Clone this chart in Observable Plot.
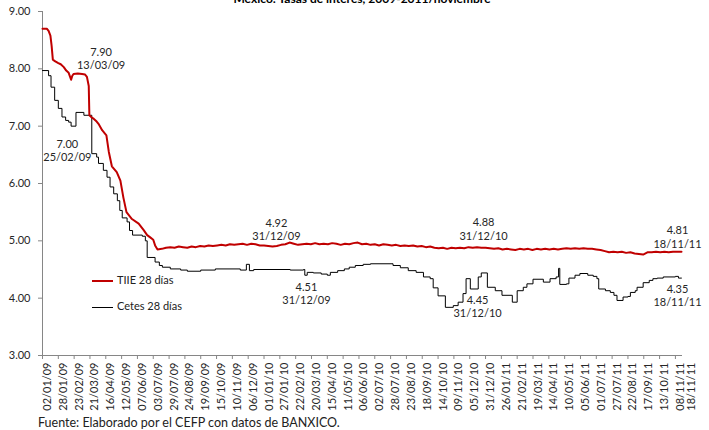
<!DOCTYPE html>
<html>
<head>
<meta charset="utf-8">
<script src="https://cdn.jsdelivr.net/npm/d3@7"></script>
<script src="https://cdn.jsdelivr.net/npm/@observablehq/plot@0.6"></script>
<style>
html, body { margin: 0; padding: 0; background: #fff; overflow: hidden; }
#wrap { position: relative; width: 709px; height: 430px; overflow: hidden; font-family: Lato, "Liberation Sans", sans-serif; }
#title { position: absolute; top: -7px; left: 0; width: 709px; padding-left: 15px; box-sizing: border-box; text-align: center; font-weight: bold; font-size: 12px; line-height: 12px; color: #000; }
#chart { position: absolute; top: 0; left: 0; }
#footer { position: absolute; top: 416px; left: 38px; font-size: 12.5px; line-height: 13px; color: #222; white-space: nowrap; }
.leg { position: absolute; font-size: 11px; line-height: 12px; color: #222; white-space: nowrap; }
.leg span.sw { display: inline-block; width: 21px; vertical-align: middle; margin-right: 4px; }
</style>
</head>
<body>
<div id="wrap">
  <div id="chart"></div>
  <div id="title"></div>
  <div class="leg" id="leg1" style="left:92px; top:274px;"></div>
  <div class="leg" id="leg2" style="left:92px; top:300px;"></div>
  <div id="footer"></div>
</div>
<script>
// ---------- DATA ----------
const titleText = "México: Tasas de interés, 2009-2011/noviembre";
const footerText = "Fuente: Elaborado por el CEFP con datos de BANXICO.";
const seriesNames = ["TIIE 28 días", "Cetes 28 días"];

const tiieDates = [
  "2009-01-02","2009-01-09","2009-01-12","2009-01-15","2009-01-17","2009-01-19","2009-01-23","2009-01-28",
  "2009-02-01","2009-02-06","2009-02-10","2009-02-14","2009-02-18","2009-02-20","2009-02-22","2009-03-01",
  "2009-03-08","2009-03-13","2009-03-16","2009-03-19","2009-03-20","2009-03-24","2009-03-27","2009-04-01",
  "2009-04-04","2009-04-10","2009-04-17","2009-04-21","2009-04-26","2009-05-04","2009-05-10","2009-05-15",
  "2009-05-20","2009-05-29","2009-06-09","2009-06-17","2009-06-23","2009-06-28","2009-07-03","2009-07-06",
  "2009-07-10","2009-07-17","2009-07-24","2009-07-31","2009-08-07","2009-08-14","2009-08-21","2009-08-28",
  "2009-09-04","2009-09-11","2009-09-18","2009-09-25","2009-10-02","2009-10-09","2009-10-16","2009-10-23",
  "2009-10-30","2009-11-06","2009-11-13","2009-11-20","2009-11-27","2009-12-04","2009-12-11","2009-12-18",
  "2009-12-25","2010-01-01","2010-01-08","2010-01-15","2010-01-22","2010-01-29","2010-02-05","2010-02-12",
  "2010-02-19","2010-02-26","2010-03-05","2010-03-12","2010-03-19","2010-03-26","2010-04-02","2010-04-09",
  "2010-04-16","2010-04-23","2010-04-30","2010-05-07","2010-05-14","2010-05-21","2010-05-28","2010-06-04",
  "2010-06-11","2010-06-18","2010-06-25","2010-07-02","2010-07-09","2010-07-16","2010-07-23","2010-07-30",
  "2010-08-06","2010-08-13","2010-08-20","2010-08-27","2010-09-03","2010-09-10","2010-09-17","2010-09-24",
  "2010-10-01","2010-10-08","2010-10-15","2010-10-22","2010-10-29","2010-11-05","2010-11-12","2010-11-19",
  "2010-11-26","2010-12-03","2010-12-10","2010-12-17","2010-12-24","2010-12-31","2011-01-07","2011-01-14",
  "2011-01-21","2011-01-28","2011-02-04","2011-02-11","2011-02-18","2011-02-25","2011-03-04","2011-03-11",
  "2011-03-18","2011-03-25","2011-04-01","2011-04-08","2011-04-15","2011-04-22","2011-04-29","2011-05-06",
  "2011-05-13","2011-05-20","2011-05-27","2011-06-03","2011-06-10","2011-06-17","2011-06-24","2011-07-01",
  "2011-07-08","2011-07-15","2011-07-22","2011-07-29","2011-08-05","2011-08-12","2011-08-19","2011-08-26",
  "2011-09-02","2011-09-09","2011-09-16","2011-09-23","2011-09-30","2011-10-07","2011-10-14","2011-10-21",
  "2011-10-28","2011-11-04","2011-11-11","2011-11-18"
];
const tiieValues = [
  8.70,8.70,8.66,8.58,8.40,8.16,8.13,8.10,
  8.08,8.03,7.97,7.93,7.81,7.88,7.91,7.92,
  7.91,7.90,7.86,7.70,7.19,7.15,7.13,7.08,
  7.04,6.93,6.84,6.55,6.30,6.20,6.05,5.75,
  5.50,5.38,5.30,5.19,5.10,5.06,5.02,4.92,
  4.85,4.86,4.88,4.89,4.88,4.90,4.89,4.88,
  4.90,4.89,4.91,4.90,4.92,4.91,4.92,4.93,
  4.92,4.94,4.93,4.94,4.95,4.93,4.95,4.94,
  4.92,4.92,4.91,4.90,4.91,4.93,4.94,4.97,
  4.95,4.93,4.94,4.95,4.94,4.96,4.94,4.95,
  4.94,4.96,4.95,4.93,4.95,4.94,4.96,4.97,
  4.94,4.95,4.93,4.94,4.92,4.94,4.93,4.92,
  4.93,4.91,4.92,4.91,4.92,4.90,4.91,4.89,
  4.90,4.88,4.87,4.88,4.86,4.88,4.87,4.88,
  4.87,4.89,4.88,4.89,4.88,4.88,4.87,4.86,
  4.87,4.85,4.86,4.85,4.84,4.86,4.85,4.86,
  4.84,4.86,4.85,4.86,4.85,4.86,4.85,4.86,
  4.87,4.86,4.87,4.86,4.87,4.86,4.86,4.85,
  4.84,4.82,4.80,4.81,4.80,4.81,4.79,4.80,
  4.78,4.77,4.76,4.80,4.80,4.81,4.80,4.81,
  4.80,4.81,4.81,4.81
];

const cetesDates = [
  "2009-01-02","2009-01-12","2009-01-16","2009-01-22","2009-01-28","2009-02-03","2009-02-09","2009-02-14",
  "2009-02-18","2009-02-26","2009-03-11","2009-03-24","2009-04-01","2009-04-04","2009-04-12","2009-04-18",
  "2009-04-23","2009-04-29","2009-05-05","2009-05-09","2009-05-13","2009-05-21","2009-05-25","2009-05-30",
  "2009-06-15","2009-06-20","2009-06-23","2009-07-06","2009-07-13","2009-07-18","2009-07-31","2009-08-17",
  "2009-08-28","2009-09-19","2009-10-13","2009-11-23","2009-12-03","2009-12-08","2009-12-15","2010-02-13",
  "2010-03-07","2010-03-09","2010-03-13","2010-03-23","2010-04-05","2010-04-15","2010-04-20","2010-05-02",
  "2010-05-13","2010-05-21","2010-05-31","2010-06-13","2010-06-25","2010-08-01","2010-08-13","2010-08-26",
  "2010-09-08","2010-09-20","2010-10-01","2010-10-06","2010-10-14","2010-10-26","2010-11-08","2010-11-16",
  "2010-11-24","2010-11-29","2010-12-06","2010-12-19","2010-12-24","2011-01-03","2011-01-16","2011-01-27",
  "2011-02-13","2011-02-21","2011-03-03","2011-03-09","2011-03-19","2011-04-05","2011-04-16","2011-04-26",
  "2011-04-30","2011-05-02","2011-05-13","2011-05-17","2011-05-27","2011-06-04","2011-06-17","2011-06-26",
  "2011-07-02","2011-07-05","2011-07-16","2011-07-24","2011-07-30","2011-08-04","2011-08-14","2011-08-22",
  "2011-08-26","2011-09-03","2011-09-06","2011-09-16","2011-09-26","2011-10-02","2011-10-09","2011-10-19",
  "2011-11-08","2011-11-13","2011-11-18"
];
const cetesValues = [
  7.97,7.88,7.68,7.45,7.31,7.16,7.10,7.07,
  7.00,7.24,7.19,6.52,6.46,6.35,6.23,6.11,
  5.94,5.82,5.70,5.53,5.40,5.33,5.18,5.10,
  5.08,5.00,4.71,4.63,4.57,4.54,4.51,4.49,
  4.47,4.49,4.51,4.49,4.59,4.48,4.50,4.49,
  4.50,4.40,4.45,4.44,4.42,4.40,4.45,4.48,
  4.51,4.54,4.57,4.59,4.60,4.57,4.53,4.48,
  4.45,4.37,4.34,4.18,4.04,3.84,3.87,3.93,
  4.08,4.34,4.16,4.37,4.44,4.19,4.13,4.05,
  3.93,4.13,4.19,4.25,4.33,4.28,4.34,4.37,
  4.52,4.24,4.25,4.35,4.40,4.43,4.40,4.38,
  4.34,4.16,4.13,4.10,4.05,3.96,4.02,4.03,
  4.10,4.13,4.19,4.27,4.31,4.34,4.35,4.37,
  4.38,4.35,4.35
];

// Annotated points
const annDates  = ["2009-03-13","2009-02-25","2009-12-31","2009-12-31","2010-12-31","2010-12-31","2011-11-18","2011-11-18"];
const annValues = [7.90, 7.00, 4.92, 4.51, 4.88, 4.45, 4.81, 4.35];

// Axis ticks
const xTickLabels = [
  "2009-01-02","2009-01-28","2009-02-23","2009-03-21","2009-04-16","2009-05-12","2009-06-07","2009-07-03",
  "2009-07-29","2009-08-24","2009-09-19","2009-10-15","2009-11-10","2009-12-06","2010-01-01","2010-01-27",
  "2010-02-22","2010-03-20","2010-04-15","2010-05-11","2010-06-06","2010-07-02","2010-07-28","2010-08-23",
  "2010-09-18","2010-10-14","2010-11-09","2010-12-05","2010-12-31","2011-01-26","2011-02-21","2011-03-19",
  "2011-04-14","2011-05-10","2011-06-05","2011-07-01","2011-07-27","2011-08-22","2011-09-17","2011-10-13",
  "2011-11-08"
];
const xLastLabel = "2011-11-18";
const yTicks = [3, 4, 5, 6, 7, 8, 9];

// ---------- BUILD ----------
const P = s => new Date(s + "T00:00:00Z");
const tiie = tiieDates.map((d, i) => ({date: P(d), value: tiieValues[i]}));
const cetes = cetesDates.map((d, i) => ({date: P(d), value: cetesValues[i]}));
const ann = annDates.map((d, i) => ({date: P(d), value: annValues[i]}));
const xTicks = xTickLabels.map(P);
const fmtDate = d3.utcFormat("%d/%m/%y");

const RED = "#c00000";
const AX = "#868686";
const TXT = "#262626";

const offsets = [[16,-16],[-8,24],[13,-16],[43,24],[-2,-19],[-8,34],[-4,-15],[-4,17]];
const annMarks = ann.map((a, i) => Plot.text([a], {
  x: "date", y: "value",
  text: d => d.value.toFixed(2) + "\n" + fmtDate(d.date),
  dx: offsets[i][0], dy: offsets[i][1],
  lineAnchor: "middle", textAnchor: "middle", lineHeight: 1.2,
  fill: TXT, fontSize: 11
}));

const chart = Plot.plot({
  width: 709,
  height: 415,
  marginTop: 11,
  marginBottom: 60,
  marginLeft: 42,
  marginRight: 28,
  style: {fontFamily: "Lato, 'Liberation Sans', sans-serif", fontSize: "11px", color: TXT, background: "transparent"},
  x: {type: "utc", domain: [P("2009-01-02"), P("2011-11-18")], label: null},
  y: {domain: [3, 9], label: null},
  marks: [
    Plot.frame({anchor: "left", stroke: AX}),
    Plot.frame({anchor: "bottom", stroke: AX}),
    Plot.axisY({ticks: yTicks, tickFormat: d => d.toFixed(2), tickSize: 4, tickPadding: 8, stroke: AX, fill: TXT, fontSize: 11, label: null}),
    Plot.axisX({ticks: xTicks, tickSize: 4, tickFormat: () => "", stroke: AX, label: null}),
    Plot.axisX({ticks: xTicks, tickSize: 0, tickPadding: 7, tickRotate: -90, dx: 5, tickFormat: fmtDate, fill: TXT, fontSize: 11, label: null}),
    Plot.axisX({ticks: [P(xLastLabel)], tickSize: 0, tickPadding: 7, tickRotate: -90, dx: 10, tickFormat: fmtDate, fill: TXT, fontSize: 11, label: null}),
    Plot.line(cetes, {x: "date", y: "value", curve: "step-after", stroke: "#000", strokeWidth: 1}),
    Plot.line(tiie, {x: "date", y: "value", stroke: RED, strokeWidth: 2}),
    ...annMarks
  ]
});
document.getElementById("chart").appendChild(chart);
document.getElementById("title").textContent = titleText;
document.getElementById("footer").textContent = footerText;
document.getElementById("leg1").innerHTML = `<span class="sw" style="border-top:2px solid ${RED}"></span>${seriesNames[0]}`;
document.getElementById("leg2").innerHTML = `<span class="sw" style="border-top:1px solid #000"></span>${seriesNames[1]}`;
</script>
</body>
</html>
